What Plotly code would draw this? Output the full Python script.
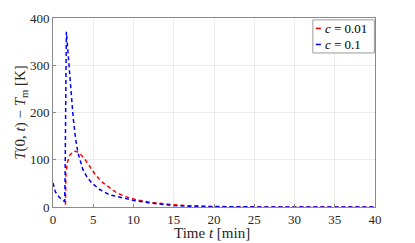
import plotly.graph_objects as go

t_red = [1.55, 1.6, 1.8, 2.1, 2.6, 3.0, 3.3, 4.0, 4.56, 5.2, 6.0, 7.0, 7.9, 9.0, 10.4, 12.0, 13.5, 14.9, 16.5, 18.0, 20.0, 23.0, 27.0, 32.0, 40.0]
v_red = [5, 72, 95, 110, 118, 117, 114, 100, 86, 70, 54, 41, 30, 22, 15, 10, 7, 5, 3, 1.5, 0.6, 0.3, 0.2, 0.1, 0.1]

t_blue = [0.0, 0.3, 0.7, 1.0, 1.3, 1.45, 1.5, 1.66, 1.8, 2.0, 2.25, 2.5, 2.8, 3.1, 3.7, 4.2, 4.8, 5.8, 7.0, 8.7, 10.0, 12.0, 13.5, 15.0, 17.0, 20.0, 25.0, 30.0, 40.0]
v_blue = [51, 32, 22, 17, 13, 12, 60, 371, 340, 290, 235, 190, 145, 115, 80, 64, 51, 37, 26, 19, 14, 8.5, 5, 3, 1.5, 0.5, 0.2, 0.1, 0.1]

x_ticks = [0, 5, 10, 15, 20, 25, 30, 35, 40]
y_ticks = [0, 100, 200, 300, 400]

series_names = ["<i>c</i> = 0.01", "<i>c</i> = 0.1"]
series_colors = ["#ff0000", "#0000ff"]
x_title = "Time <i>t</i> [min]"
y_title = "<i>T</i>(0, <i>t</i>) − <i>T</i><sub>m</sub> [K]"

FONT = "Liberation Serif"
DASH = "4px,3px"

fig = go.Figure()
fig.add_trace(go.Scatter(x=t_red, y=v_red, mode="lines", name=series_names[0],
                         line=dict(color=series_colors[0], width=1.5, dash=DASH)))
fig.add_trace(go.Scatter(x=t_blue, y=v_blue, mode="lines", name=series_names[1],
                         line=dict(color=series_colors[1], width=1.5, dash=DASH)))

axis_common = dict(showline=True, linecolor="#8a8a8a", linewidth=1, mirror=True,
                   ticks="inside", ticklen=3, tickcolor="#8a8a8a",
                   showgrid=True, gridcolor="#ececec", gridwidth=1, zeroline=False,
                   automargin=False,
                   tickfont=dict(family=FONT, size=13, color="#262626"))

fig.update_layout(
    width=415, height=243,
    margin=dict(l=53, r=40, t=18, b=36),
    paper_bgcolor="white", plot_bgcolor="white",
    font=dict(family=FONT, color="#262626"),
    showlegend=False,
    xaxis=dict(range=[0, 40], tickvals=x_ticks, **axis_common),
    yaxis=dict(range=[0, 400], tickvals=y_ticks,
               title=dict(text=y_title, font=dict(family=FONT, size=15, color="#262626"), standoff=0),
               **axis_common),
)

# x axis title (placed as annotation for exact vertical position)
fig.add_annotation(xref="paper", yref="paper", x=0.495, y=-0.135, xanchor="center", yanchor="middle",
                   text=x_title, showarrow=False, font=dict(family=FONT, size=15, color="#262626"))

# custom compact legend (MATLAB style)
fig.add_shape(type="rect", xref="paper", yref="paper", x0=0.807, x1=0.998, y0=0.815, y1=0.99,
              line=dict(color="#9a9a9a", width=1), fillcolor="white", layer="above")
for i, (nm, col) in enumerate(zip(series_names, series_colors)):
    yy = 0.945 - i * 0.085
    fig.add_shape(type="line", xref="paper", yref="paper", x0=0.816, x1=0.832, y0=yy, y1=yy,
                  line=dict(color=col, width=1.5), layer="above")
    fig.add_annotation(xref="paper", yref="paper", x=0.84, y=yy, xanchor="left", yanchor="middle",
                       text=nm, showarrow=False, font=dict(family=FONT, size=13, color="#000000"))

fig.write_html("out.html", config={"displayModeBar": False},
               post_script="document.body.style.margin='0';")
